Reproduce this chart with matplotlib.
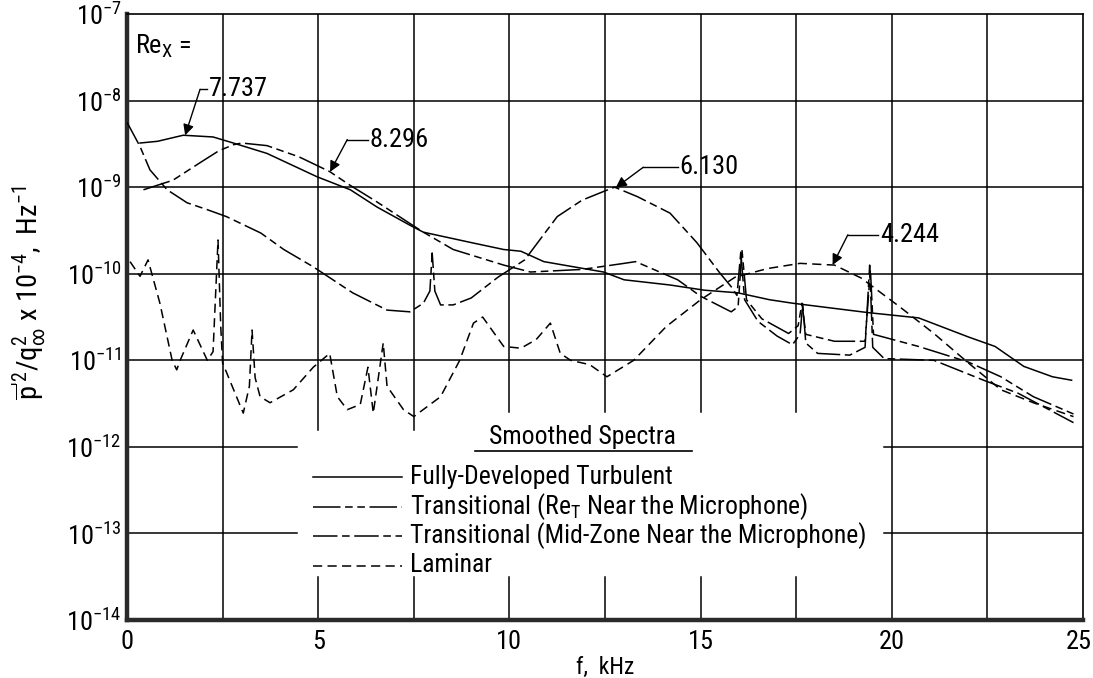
import numpy as np
import matplotlib.pyplot as plt
from matplotlib.lines import Line2D
from matplotlib.ticker import NullLocator
from matplotlib.transforms import ScaledTranslation

FONT = "Roboto Condensed"
plt.rcParams["font.family"] = [FONT, "DejaVu Sans"]
plt.rcParams["mathtext.fontset"] = "custom"
plt.rcParams["mathtext.rm"] = FONT
plt.rcParams["mathtext.it"] = FONT
plt.rcParams["mathtext.bf"] = FONT

# frequency in kHz, spectrum level as log10 value
turb_f = [0.34, 0.8, 1.47, 2.25, 2.78, 3.66, 4.97, 5.84, 6.54, 7.4, 7.75, 9.0, 9.85,
          10.3, 10.9, 12.46, 13.0, 14.2, 15.1, 15.97, 16.8, 17.4, 19.4, 20.7, 22.0,
          22.7, 23.45, 24.2, 24.7]
turb_lg = [-8.49, -8.47, -8.40, -8.42, -8.49, -8.61, -8.88, -9.03, -9.23, -9.44, -9.52,
           -9.64, -9.72, -9.74, -9.86, -9.98, -10.07, -10.13, -10.19, -10.22, -10.30,
           -10.34, -10.45, -10.51, -10.73, -10.84, -11.07, -11.19, -11.23]

ret_f = [0.43, 1.2, 1.9, 2.4, 2.78, 3.0, 3.66, 4.5, 5.3, 5.84, 6.5, 7.4, 7.75, 8.53,
         9.85, 10.55, 11.9, 13.0, 13.3, 14.4, 15.0, 15.8, 15.98, 16.08, 16.2, 16.6,
         17.3, 17.55, 17.65, 17.75, 18.5, 19.3, 19.44, 19.52, 20.7, 22.0, 22.85, 23.7,
         24.75]
ret_lg = [-9.03, -8.92, -8.72, -8.58, -8.51, -8.49, -8.52, -8.65, -8.82, -8.98, -9.16,
          -9.42, -9.52, -9.72, -9.90, -9.98, -9.95, -9.88, -9.86, -10.07, -10.26,
          -10.44, -10.38, -9.72, -10.30, -10.52, -10.69, -10.60, -10.34, -10.70,
          -10.78, -10.78, -9.95, -10.70, -10.84, -11.02, -11.19, -11.42, -11.62]

mid_f = [0.0, 0.34, 0.6, 1.05, 1.57, 2.1, 2.6, 3.5, 4.1, 4.87, 5.9, 6.8, 7.4, 7.75,
         7.92, 7.98, 8.05, 8.2, 8.53, 9.0, 9.7, 10.4, 11.25, 11.9, 12.46, 12.75, 13.35,
         14.2, 14.9, 15.5, 15.8, 15.95, 16.05, 16.15, 16.5, 17.0, 17.4, 17.6, 17.67,
         17.75, 18.06, 18.9, 19.3, 19.42, 19.5, 19.8, 21.1, 22.4, 23.3, 24.75]
mid_lg = [-8.25, -8.53, -8.80, -9.03, -9.18, -9.26, -9.34, -9.53, -9.72, -9.92, -10.22,
          -10.42, -10.44, -10.34, -10.20, -9.76, -10.20, -10.36, -10.36, -10.28, -10.04,
          -9.84, -9.34, -9.15, -9.05, -9.00, -9.11, -9.30, -9.64, -9.99, -10.15, -10.25,
          -9.75, -10.30, -10.55, -10.72, -10.82, -10.70, -10.35, -10.80, -10.92, -10.94,
          -10.85, -9.90, -10.85, -10.98, -11.00, -11.23, -11.38, -11.72]

lam_f = [0.08, 0.34, 0.55, 0.86, 1.18, 1.3, 1.39, 1.73, 2.1, 2.25, 2.38, 2.45, 2.5,
         3.04, 3.2, 3.27, 3.35, 3.48, 3.74, 4.35, 4.87, 5.3, 5.5, 5.76, 6.1, 6.3, 6.44,
         6.7, 6.8, 7.23, 7.5, 8.2, 8.7, 9.06, 9.3, 9.85, 10.3, 10.7, 11.07, 11.33, 11.6,
         12.1, 12.55, 13.25, 14.1, 15.0, 15.9, 16.75, 17.6, 18.5, 19.2, 20.2, 21.1, 22.0,
         22.85, 23.7, 24.75]
lam_lg = [-9.86, -10.03, -9.84, -10.34, -11.00, -11.11, -11.00, -10.65, -11.00, -10.90,
          -9.61, -10.60, -11.03, -11.61, -11.30, -10.65, -11.20, -11.42, -11.49, -11.34,
          -11.08, -10.92, -11.42, -11.57, -11.51, -11.08, -11.61, -10.80, -11.30, -11.57,
          -11.65, -11.42, -11.00, -10.57, -10.50, -10.84, -10.86, -10.76, -10.57, -10.92,
          -11.00, -11.05, -11.19, -11.00, -10.61, -10.30, -10.04, -9.94, -9.88, -9.90,
          -10.05, -10.38, -10.69, -11.03, -11.34, -11.49, -11.65]

legend_labels = ["Fully-Developed Turbulent",
                 r"Transitional (Re$_\mathregular{T}$ Near the Microphone)",
                 "Transitional (Mid-Zone Near the Microphone)",
                 "Laminar"]
re_labels = ["7.737", "8.296", "6.130", "4.244"]

styles = ["-", (0, (18, 3, 5, 3, 5, 3)), (0, (16, 3, 5, 3)), (0, (6, 3.5))]

fig = plt.figure(figsize=(10.93, 6.78), dpi=100)
ax = fig.add_axes([0.1162, 0.0855, 0.8747, 0.8938])
ax.set_yscale("log")
ax.set_xlim(0, 25)
ax.set_ylim(1e-14, 1e-7)

series = [(turb_f, turb_lg), (ret_f, ret_lg), (mid_f, mid_lg), (lam_f, lam_lg)]
for (f, lg), ls in zip(series, styles):
    ax.plot(f, 10.0 ** np.array(lg), color="black", lw=1.1, ls=ls, zorder=3)

# grid, broken where the legend sits
gkw = dict(color="black", lw=1.1, zorder=1)
for x in [2.5, 20, 22.5]:
    ax.plot([x, x], [1e-14, 1e-7], **gkw)
for x, stop in [(5, 10 ** -11.8), (7.5, 10 ** -11.8), (10, 10 ** -11.6),
                (12.5, 10 ** -11.6), (15, 10 ** -11.6), (17.5, 10 ** -11.6)]:
    ax.plot([x, x], [stop, 1e-7], **gkw)
    ax.plot([x, x], [1e-14, 10 ** -13.5], **gkw)
for e in [-8, -9, -10, -11]:
    ax.plot([0, 25], [10.0 ** e] * 2, **gkw)
for e in [-12, -13]:
    ax.plot([0, 4.45], [10.0 ** e] * 2, **gkw)
    ax.plot([19.8, 25], [10.0 ** e] * 2, **gkw)

for side in ["left", "bottom"]:
    ax.spines[side].set_linewidth(3.2)
    ax.spines[side].set_color("#2a2a2a")
for side in ["top", "right"]:
    ax.spines[side].set_linewidth(1.2)

ax.set_xticks([0, 5, 10, 15, 20, 25])
ax.set_yticks(10.0 ** np.arange(-14, -6))
ax.yaxis.set_minor_locator(NullLocator())
ax.tick_params(axis="both", length=0, labelsize=19)
ax.tick_params(axis="x", pad=7)
ax.tick_params(axis="y", pad=4)
# keep the last x label inside the figure
last = ax.get_xticklabels()[-1]
last.set_transform(last.get_transform() + ScaledTranslation(-4 / 100, 0, fig.dpi_scale_trans))

ax.set_xlabel("f,  kHz", fontsize=17)
ax.xaxis.set_label_coords(0.5, -0.06)
ax.set_ylabel(r"$\overline{\mathregular{p}}\mathregular{'}^{\mathregular{2}}/\mathregular{q}_{\infty}^{\mathregular{2}}$"
              r" x 10$^{\mathregular{-4}}$,  Hz$^{\mathregular{-1}}$", fontsize=20.5)
ax.yaxis.set_label_coords(-0.083, 0.54)

ax.text(0.2, 10 ** -7.37, r"Re$_\mathregular{X}$ =", fontsize=19, va="center")

# Re_x call-outs: tip on the curve, elbow, then text
callouts = [(0, 1.52, 1.91, 10 ** -7.87, 2.1),
            (1, 5.31, 5.76, 10 ** -8.45, 6.3),
            (2, 12.78, 13.5, 10 ** -8.77, 14.4),
            (3, 18.45, 18.85, 10 ** -9.55, 19.65)]
for idx, tip_f, ex, ey, tx in callouts:
    f, lg = series[idx]
    tip_y = 10 ** np.interp(tip_f, f, lg)
    ax.annotate("", xy=(tip_f, tip_y), xytext=(ex, ey),
                arrowprops=dict(arrowstyle="-|>", color="black", lw=1.0,
                                mutation_scale=16, shrinkA=0, shrinkB=0), zorder=4)
    ax.plot([ex, tx], [ey, ey], color="black", lw=1.0, zorder=4)
    ax.text(tx + 0.05, ey, re_labels[idx], fontsize=19, va="center", ha="left")

# legend drawn by hand in figure pixels
W, H = 1093.0, 678.0
fig.text(582 / W, 1 - 437 / H, "Smoothed Spectra", fontsize=18.5, ha="center", va="center")
fig.add_artist(Line2D([475 / W, 692 / W], [1 - 451 / H] * 2, color="black", lw=1.2))
for i, (lab, ls) in enumerate(zip(legend_labels, styles)):
    y = 1 - (477 + 29.5 * i) / H
    fig.add_artist(Line2D([313 / W, 402 / W], [y, y], color="black", lw=1.1, ls=ls))
    fig.text(410 / W, y, lab, fontsize=18.5, va="center", ha="left")

fig.savefig("out.png", dpi=100)
